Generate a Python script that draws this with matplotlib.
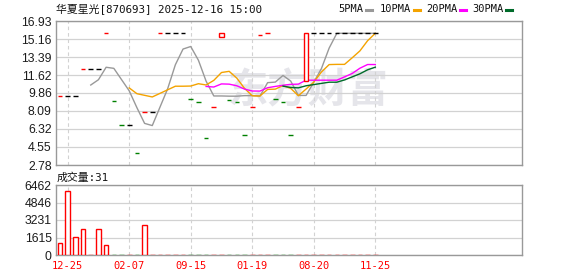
import numpy as np
import pandas as pd
import matplotlib
matplotlib.use("Agg")
import matplotlib.pyplot as plt
from matplotlib.patches import Rectangle
from matplotlib.lines import Line2D

# Daily data (42 sessions)
closes = [9.60, 9.60, 9.60, 12.20, 12.20, 12.20, 15.72, 9.07, 6.68, 6.68,
          3.93, 7.99, 7.99, 15.72, 15.72, 15.72, 15.72, 9.24, 8.97, 5.44,
          8.45, 15.72, 9.14, 8.97, 5.70, 8.45, 15.52, 15.72, 9.24, 8.97,
          5.70, 8.45, 15.72, 15.72, 15.72, 15.72, 15.72, 15.72, 15.72, 15.72,
          15.72, 15.72]
opens = [9.60, 9.60, 9.60, 12.20, 12.20, 12.20, 15.72, 9.07, 6.68, 6.68,
         3.93, 7.99, 7.99, 15.72, 15.72, 15.72, 15.72, 9.24, 8.97, 5.44,
         8.45, 15.33, 9.14, 8.97, 5.70, 8.45, 15.52, 15.72, 9.24, 8.97,
         5.70, 8.45, 11.06, 15.72, 15.72, 15.72, 15.72, 15.72, 15.72, 15.72,
         15.72, 15.72]
volumes = [1100, 5940, 1630, 2380, 40, 2380, 880, 20, 30, 15,
           25, 2750, 20, 10, 30, 20, 40, 25, 10, 30,
           20, 15, 40, 20, 10, 30, 20, 25, 10, 30,
           20, 10, 40, 20, 30, 10, 20, 40, 25, 10,
           20, 31]

date_labels = ["12-25", "02-07", "09-15", "01-19", "08-20", "11-25"]
price_ticks = [2.78, 4.55, 6.32, 8.09, 9.86, 11.62, 13.39, 15.16, 16.93]
vol_ticks = [0, 1615, 3231, 4846, 6462]
ma_periods = [5, 10, 20, 30]
ma_colors = ["#999999", "#f4a300", "#ff00ff", "#006b2a"]

RED, GREEN, BLACK = "#ff0000", "#008000", "#000000"
GRID = "#d2d2d2"
SPINE = "#999999"
TICKC = "#1c1c1c"

W, H = 578, 276
fig = plt.figure(figsize=(W / 100, H / 100), dpi=100)
ax = fig.add_axes([56 / W, 1 - 165 / H, 466 / W, 144 / H])
axv = fig.add_axes([56 / W, 1 - 255 / H, 466 / W, 70 / H])

x = np.arange(len(closes))
close_s = pd.Series(closes)

# candle colours: compare with previous close, first one counted as up
colors = []
for i, c in enumerate(closes):
    if i == 0 or c > closes[i - 1]:
        colors.append(RED)
    elif c < closes[i - 1]:
        colors.append(GREEN)
    else:
        colors.append(BLACK)

xticks = list(range(1, len(closes), 8))

for a in (ax, axv):
    a.set_xlim(-0.52, 60.08)
    for s in a.spines.values():
        s.set_color(SPINE)
        s.set_linewidth(1)
    a.yaxis.grid(True, color=GRID, lw=0.9)
    for t in xticks:
        a.axvline(t, color=GRID, lw=0.8, ls=(0, (3.2, 2.6)), zorder=0.6)
    a.tick_params(length=0, colors=TICKC, labelsize=8.8, pad=3)

# watermark
ax.text(308 / W, 1 - 91 / H, "东方财富", transform=fig.transFigure,
        ha="center", va="center", fontsize=29, color="#e5e5ea",
        family="Noto Sans CJK SC", fontweight="bold", zorder=0.5)

# price candles
for i in x:
    o, c, col = opens[i], closes[i], colors[i]
    if o == c:
        ax.hlines(c, i - 0.3, i + 0.3, colors=col, lw=1.0, zorder=3)
    else:
        ax.add_patch(Rectangle((i - 0.3, min(o, c)), 0.6, abs(c - o),
                               facecolor="white", edgecolor=col, lw=1.0, zorder=3))

for n, col in zip(ma_periods, ma_colors):
    ma = close_s.rolling(n).mean()
    ax.plot(x, ma, color=col, lw=1.0, zorder=2)

ax.set_ylim(price_ticks[0], price_ticks[-1])
ax.set_yticks(price_ticks)
ax.set_yticklabels([f"{v:.2f}" for v in price_ticks], family="Liberation Sans")
ax.set_xticks(xticks)
ax.set_xticklabels([])

# volume bars
vol_colors = [GREEN if c == GREEN else RED for c in colors]
faces = [GREEN if c == GREEN else "white" for c in colors]
axv.bar(x, volumes, width=0.6, facecolor=faces, edgecolor=vol_colors, lw=1.0, zorder=3)
axv.set_ylim(vol_ticks[0], vol_ticks[-1])
axv.set_yticks(vol_ticks)
axv.set_yticklabels([str(v) for v in vol_ticks], family="Liberation Sans")
axv.set_xticks(xticks)
axv.set_xticklabels(date_labels, color=RED, family="DejaVu Sans Mono", fontsize=7.5)
axv.tick_params(axis="x", pad=4.5)

# header texts
cjk = ["DejaVu Sans Mono", "Noto Sans CJK SC"]
fig.text(56 / W, 1 - 9.5 / H, "华夏星光[870693] 2025-12-16 15:00", family=cjk,
         fontsize=7.8, va="center", ha="left", color="#111111")
fig.text(57 / W, 1 - 177.5 / H, f"成交量:{volumes[-1]}", family=cjk,
         fontsize=7.8, va="center", ha="left", color="#111111")

# MA legend
leg_x = [338, 380, 426, 472]
for lx, n, col in zip(leg_x, ma_periods, ma_colors):
    fig.text(lx / W, 1 - 9.5 / H, f"{n}PMA", family="DejaVu Sans Mono",
             fontsize=7.5, va="center", ha="left", color="#111111")
    dx = 28 if n < 10 else 34
    fig.add_artist(Line2D([(lx + dx) / W, (lx + dx + 6) / W], [1 - 10 / H, 1 - 10 / H],
                          color=col, lw=2.2, transform=fig.transFigure))

fig.savefig("out.png", dpi=100)
